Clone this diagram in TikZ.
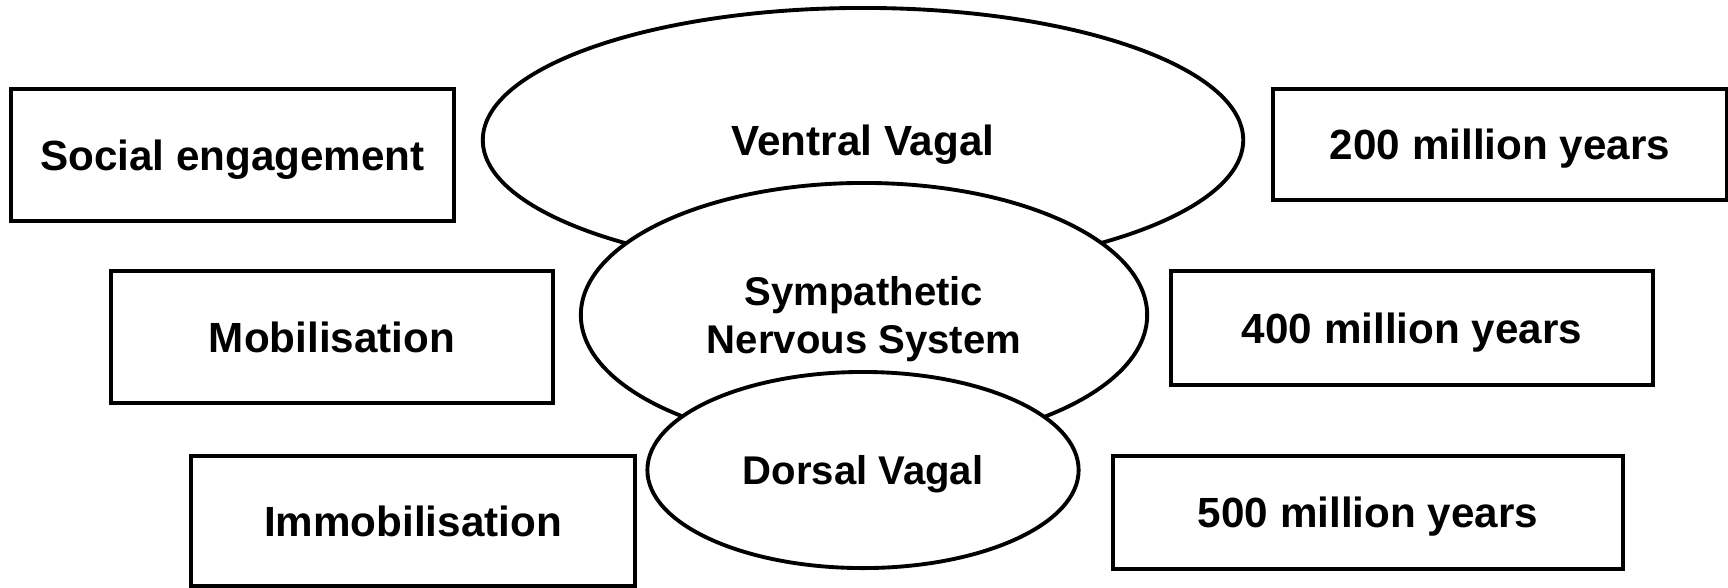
\documentclass[tikz,border=0pt]{standalone}
\usepackage{fontspec}
\setmainfont{Liberation Sans}
\usepackage{tikz}
\usetikzlibrary{shapes}
\usetikzlibrary{shapes.geometric}

\begin{document}
\begin{tikzpicture}[x=0.01cm, y=-0.01cm, font=\fontsize{12}{14}\selectfont\bfseries,
  box/.style={draw, line width=1.1pt, inner sep=0pt, align=center, text depth=0pt},
  oval/.style={ellipse, draw, fill=white, line width=1.1pt, inner sep=0pt, align=center, text depth=0pt},
  small/.style={font=\fontsize{11.4}{13.4}\selectfont\bfseries}]
\useasboundingbox (0,0) rectangle (1728,587);
\node [oval, minimum width=7.6cm, minimum height=2.64cm] (ventral) at (863,140) {Ventral Vagal};
\node [oval, small, minimum width=5.66cm, minimum height=2.64cm] (sympath) at (864,315) {Sympathetic\\Nervous System};
\node [oval, small, minimum width=4.31cm, minimum height=1.96cm] (dorsal) at (863,470) {Dorsal Vagal};
\node [box, minimum width=4.43cm, minimum height=1.32cm] (social) at (232.5,155) {Social engagement};
\node [box, minimum width=4.42cm, minimum height=1.32cm] (mobil) at (332,337) {Mobilisation};
\node [box, minimum width=4.44cm, minimum height=1.30cm] (immobil) at (413,521) {Immobilisation};
\node [box, minimum width=4.54cm, minimum height=1.11cm] (yrs200) at (1500,144.5) {200 million years};
\node [box, minimum width=4.81cm, minimum height=1.14cm] (yrs400) at (1412,328) {400 million years};
\node [box, minimum width=5.10cm, minimum height=1.13cm] (yrs500) at (1368,512.5) {500 million years};
\end{tikzpicture}
\end{document}
